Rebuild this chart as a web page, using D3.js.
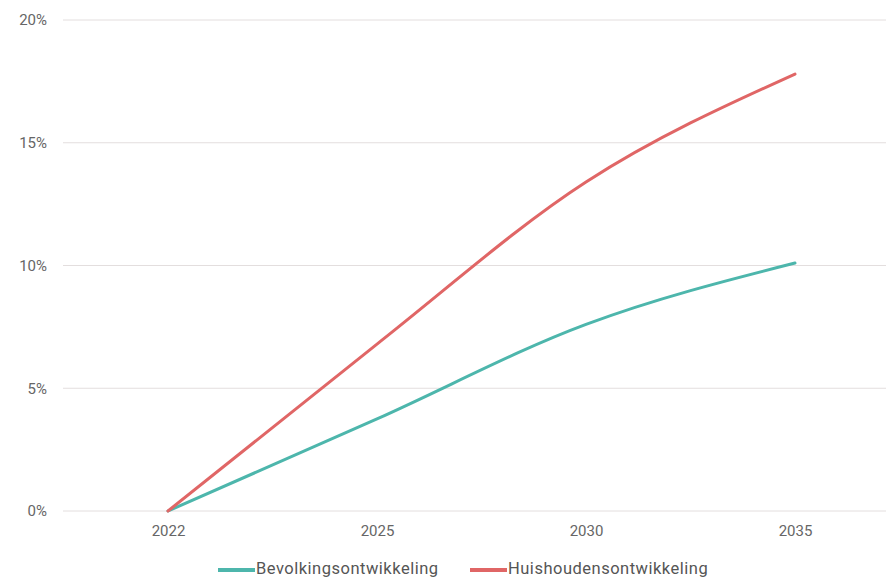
<!DOCTYPE html>
<html>
<head>
<meta charset="utf-8">
<script src="https://cdn.jsdelivr.net/npm/d3@7"></script>
<style>
  body { margin: 0; background: #fff; }
  svg { display: block; font-family: Roboto, "Noto Sans", sans-serif; }
</style>
</head>
<body>
<svg class="graph" width="886" height="579"></svg>
<script>
// data
const years = ["2022", "2025", "2030", "2035"];
const bevolking = [0, 3.75, 7.6, 10.1];
const huishouden = [0, 6.8, 13.4, 17.8];
const yTicks = [0, 5, 10, 15, 20];
const seriesNames = ["Bevolkingsontwikkeling", "Huishoudensontwikkeling"];
const seriesColors = ["#4db6ac", "#e06666"];

const w = 886, h = 579;
const margin = { top: 20, right: 0, bottom: 68, left: 63 };

const svg = d3.select('svg.graph');

// scales - categories sit evenly across the plot, first one 105px in
const x = d3.scalePoint()
    .domain(years)
    .range([margin.left + 105, w - 91]);

const y = d3.scaleLinear()
    .domain([0, 20])
    .range([h - margin.bottom, margin.top]);

// gridlines
svg.append('g')
    .selectAll('line').data(yTicks)
    .enter().append('line')
        .attr('x1', margin.left)
        .attr('x2', w - margin.right)
        .attr('y1', d => y(d))
        .attr('y2', d => y(d))
        .attr('stroke', '#e3dede')
        .attr('stroke-width', 1);

// y axis labels
const yAxis = svg.append('g')
    .attr('transform', `translate(${margin.left - 16}, 0)`)
    .call(d3.axisLeft(y).tickValues(yTicks).tickFormat(d => d + '%').tickSize(0).tickPadding(0));
yAxis.select('.domain').remove();
yAxis.selectAll('text')
    .attr('fill', '#666')
    .attr('font-size', 15)
    .attr('font-family', 'Roboto, sans-serif');

// x axis labels
const xAxis = svg.append('g')
    .attr('transform', `translate(0, ${y(0) + 14})`)
    .call(d3.axisBottom(x).tickSize(0).tickPadding(0));
xAxis.select('.domain').remove();
xAxis.selectAll('text')
    .attr('fill', '#666')
    .attr('font-size', 15)
    .attr('font-family', 'Roboto, sans-serif');

// lines
const series = [bevolking, huishouden];
const line = d3.line()
    .x((d, i) => x(years[i]))
    .y(d => y(d))
    .curve(d3.curveMonotoneX);

svg.append('g')
    .selectAll('path').data(series)
    .enter().append('path')
        .attr('d', d => line(d))
        .attr('fill', 'none')
        .attr('stroke', (d, i) => seriesColors[i])
        .attr('stroke-width', 3)
        .attr('stroke-linecap', 'round');

// legend
const legend = svg.append('g').attr('transform', `translate(0, ${h - 5})`);
const legendX = [218, 470];
const items = legend.selectAll('g').data(seriesNames)
    .enter().append('g')
        .attr('transform', (d, i) => `translate(${legendX[i]}, 0)`);
items.append('line')
    .attr('x1', 0).attr('x2', 37)
    .attr('y1', -4).attr('y2', -4)
    .attr('stroke', (d, i) => seriesColors[i])
    .attr('stroke-width', 4);
items.append('text')
    .attr('x', 38)
    .attr('y', 0)
    .attr('font-size', 16.5)
    .attr('letter-spacing', 0.5)
    .attr('fill', '#555')
    .text(d => d);
</script>
</body>
</html>
